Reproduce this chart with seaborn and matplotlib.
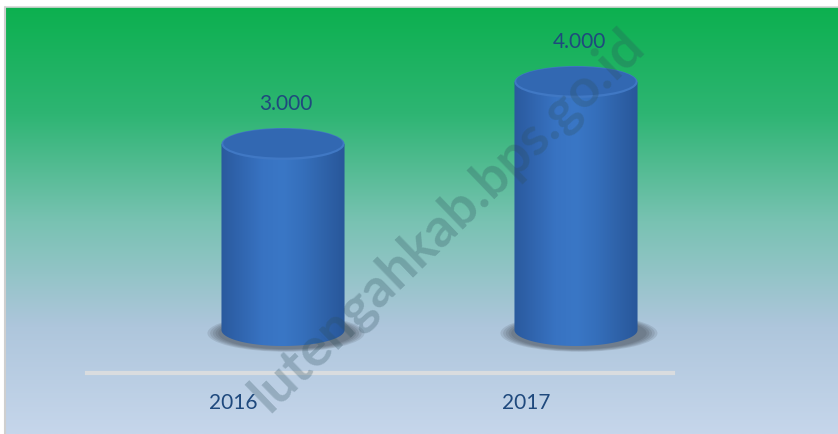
import numpy as np
import matplotlib
matplotlib.use("Agg")
import matplotlib.pyplot as plt
import seaborn as sns
from matplotlib.colors import LinearSegmentedColormap
from matplotlib.patches import Ellipse, PathPatch
from matplotlib.path import Path
from matplotlib.lines import Line2D

# data
years = ["2016", "2017"]
values = [3000, 4000]

# figure geometry (pixels)
W, H, DPI = 838, 435, 100
PX_CAT = 293.0      # pixels per category
PX_VAL = 0.062      # pixels per unit of value
X_CAT0 = 233        # pixel x of first category
Y_ZERO = 374        # pixel y (from top) of the axis line
DEPTH_X, DEPTH_Y = 50, 43   # 3d depth shift of the cylinders (px)
RY_PX = 16          # half height of the cylinder ellipses (px)
TEXT_C = "#1F497D"

sns.set_style("white")
plt.rcParams["font.family"] = ["Lato", "DejaVu Sans"]

fig = plt.figure(figsize=(W / DPI, H / DPI), dpi=DPI)
fig.patch.set_facecolor("white")

# gradient background of the chart area
bg = fig.add_axes([6 / W, 0, 1 - 6 / W, (H - 8) / H])
bg_cmap = LinearSegmentedColormap.from_list(
    "bg", ["#0CB04F", "#2EB573", "#78C2B2", "#AEC6DC", "#C6D6EB"])
bg.imshow(np.linspace(0, 1, 256).reshape(-1, 1), aspect="auto", cmap=bg_cmap,
          extent=[0, 1, 0, 1])
bg.set_axis_off()
fig.add_artist(Line2D([4.5 / W, 4.5 / W], [0, (H - 7.5) / H], color="#cfcfcf", lw=1.5))
fig.add_artist(Line2D([4.5 / W, 1], [(H - 7.5) / H, (H - 7.5) / H], color="#d6d6d6", lw=1.2))

ax = fig.add_axes([0, 0, 1, 1])
ax.patch.set_alpha(0)
sns.barplot(x=years, y=values, width=0.42, color="#2e64b0", ax=ax)

dx = DEPTH_X / PX_CAT
dy = DEPTH_Y / PX_VAL
ry = RY_PX / PX_VAL

body_cmap = LinearSegmentedColormap.from_list(
    "body", ["#2a5a9e", "#3166b0", "#3873c2", "#3a77c6", "#356fbb", "#2f63aa", "#28579a"])
grad = np.linspace(0, 1, 200).reshape(1, -1)

for p in ax.patches:
    p.set_visible(False)
    x0 = p.get_x() + dx
    w = p.get_width()
    cx = x0 + w / 2
    base = dy
    top = dy + p.get_height()

    # soft shadow at the foot
    for k in range(5):
        s = 1 + 0.04 * k
        ax.add_patch(Ellipse((cx + 0.01, base - ry * 0.2), w * 1.1 * s, 2 * ry * 1.0 * s,
                             facecolor="#2c3038", edgecolor="none", alpha=0.12, zorder=2))

    # body with horizontal shading, clipped to rectangle + bottom half ellipse
    t = np.linspace(np.pi, 2 * np.pi, 60)
    verts = [(x0, top)] + list(zip(cx + w / 2 * np.cos(t), base + ry * np.sin(t))) + [(x0 + w, top), (x0, top)]
    codes = [Path.MOVETO] + [Path.LINETO] * (len(verts) - 2) + [Path.CLOSEPOLY]
    clip = PathPatch(Path(verts, codes), facecolor="none", edgecolor="none", transform=ax.transData)
    ax.add_patch(clip)
    im = ax.imshow(grad, aspect="auto", cmap=body_cmap, extent=[x0, x0 + w, base - ry, top], zorder=3)
    im.set_clip_path(clip)

    # top face
    ax.add_patch(Ellipse((cx, top), w, 2 * ry, facecolor="#4078c4", edgecolor="none", zorder=4))
    ax.add_patch(Ellipse((cx, top + ry * 0.05), w * 0.97, 2 * ry * 0.9, facecolor="#3268b2",
                         edgecolor="none", zorder=4))

    label = f"{p.get_height():,.0f}".replace(",", ".")
    ax.annotate(label, (cx, top + ry), xytext=(3, 25), textcoords="offset pixels",
                ha="center", va="center", fontsize=15, color=TEXT_C, zorder=5)

ax.set_xlim(-X_CAT0 / PX_CAT, (W - X_CAT0) / PX_CAT)
ax.set_ylim(-(H - Y_ZERO) / PX_VAL, Y_ZERO / PX_VAL)

for s in ["top", "left", "right"]:
    ax.spines[s].set_visible(False)
ax.spines["bottom"].set_position(("data", 0))
ax.spines["bottom"].set_bounds(-0.5, 1.5)
ax.spines["bottom"].set_color("#d9dcdf")
ax.spines["bottom"].set_linewidth(3)
ax.set_yticks([])
ax.tick_params(axis="x", length=0, pad=14, labelsize=15, labelcolor=TEXT_C)
ax.set_xlabel("")
ax.set_ylabel("")

# watermark
fig.text(447 / W, 1 - 220 / H, "lutengahkab.bps.go.id", rotation=44, ha="center", va="center",
         rotation_mode="anchor", fontsize=39, fontweight="bold", color="#2d4f5c", alpha=0.28)

fig.savefig("out.png", dpi=DPI)
